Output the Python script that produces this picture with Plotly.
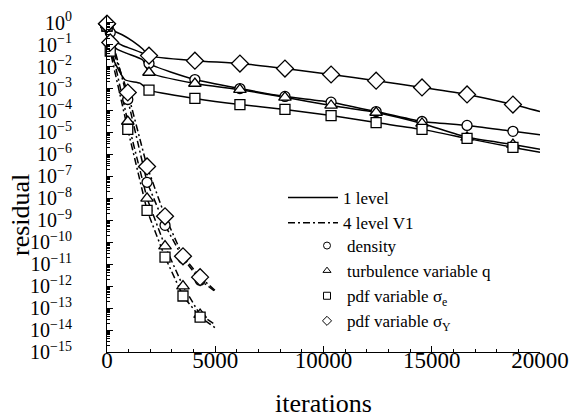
import plotly.graph_objects as go

# ---------------- data (iterations, log10 residual) ----------------
# 1-level (solid) runs
s_den_it = [0, 150, 370, 740, 1650, 1940, 4060, 6140, 8220, 10350, 12430, 14550, 16630, 18750, 20000]
s_den_lg = [-0.1, -0.45, -0.86, -1.05, -1.4, -1.86, -2.59, -3.0, -3.36, -3.62, -4.05, -4.5, -4.68, -4.95, -5.1]
s_q_it = [0, 150, 460, 920, 1650, 1940, 4060, 6140, 8220, 10350, 12430, 14550, 16630, 18750, 20000]
s_q_lg = [-0.1, -0.9, -1.2, -1.4, -1.7, -2.27, -2.77, -3.05, -3.4, -3.77, -4.09, -4.59, -5.22, -5.55, -5.77]
s_se_it = [0, 150, 830, 1520, 1940, 4060, 6140, 8220, 10350, 12430, 14550, 16630, 18750, 20000]
s_se_lg = [-0.15, -1.35, -2.6, -2.75, -3.07, -3.45, -3.73, -3.95, -4.23, -4.55, -4.86, -5.27, -5.68, -5.9]
s_sy_it = [0, 280, 700, 1200, 1650, 1940, 4060, 6140, 8220, 10350, 12430, 14550, 16630, 18750, 20000]
s_sy_lg = [-0.05, -0.35, -0.55, -0.85, -1.2, -1.5, -1.73, -1.86, -2.09, -2.36, -2.64, -2.95, -3.27, -3.73, -4.05]
# iterations at which the 1-level runs carry a marker
s_mark_it = [0, 1940, 4060, 6140, 8220, 10350, 12430, 14550, 16630, 18750]

# 4-level V1 (dash-dot) runs
d_it = [0, 150, 960, 1850, 2680, 3510, 4300, 5000]
d_den_lg = [-0.1, -0.45, -3.5, -7.27, -9.23, -10.73, -11.73, -12.25]
d_q_lg = [-0.1, -0.9, -4.5, -8.0, -10.18, -12.0, -13.3, -13.75]
d_se_lg = [-0.15, -1.3, -4.86, -8.55, -10.68, -12.45, -13.41, -13.9]
d_sy_lg = [-0.05, -0.9, -3.18, -6.55, -8.82, -10.64, -11.59, -12.2]
d_mark_it = [0, 150, 960, 1850, 2680, 3510, 4300]

y_decades = list(range(0, -16, -1))
x_ticks = [0, 5000, 10000, 15000, 20000]
x_ticktext = ["0", "5000", "10000", "15000", "20000"]

FONT = "Liberation Serif"

fig = go.Figure()

series = [
    ("density", "circle", 10),
    ("turbulence variable q", "triangle-up", 11),
    ("pdf variable σ<sub>e</sub>", "square", 10),
    ("pdf variable σ<sub>Y</sub>", "diamond", 13),
]
solid = [(s_den_it, s_den_lg), (s_q_it, s_q_lg), (s_se_it, s_se_lg), (s_sy_it, s_sy_lg)]
dashed = [d_den_lg, d_q_lg, d_se_lg, d_sy_lg]
DASH = "7px,3px,2px,3px"

for (name, sym, size), (it, lg), dlg in zip(series, solid, dashed):
    yv = [10 ** v for v in lg]
    fig.add_trace(go.Scatter(x=it, y=yv, mode="lines", showlegend=False,
                             line=dict(color="black", width=1.5, shape="spline", smoothing=0.5)))
    dyv = [10 ** v for v in dlg]
    fig.add_trace(go.Scatter(x=d_it, y=dyv, mode="lines", showlegend=False,
                             line=dict(color="black", width=1.5, dash=DASH)))
for (name, sym, size), (it, lg), dlg in zip(series, solid, dashed):
    mx = [x for x in it if x in s_mark_it]
    my = [10 ** lg[it.index(x)] for x in mx]
    dmx = [x for x in d_it if x in d_mark_it]
    dmy = [10 ** dlg[d_it.index(x)] for x in dmx]
    fig.add_trace(go.Scatter(x=mx + dmx, y=my + dmy, mode="markers", showlegend=False,
                             cliponaxis=False,
                             marker=dict(symbol=sym, size=size, color="white",
                                         line=dict(color="black", width=1.3))))

# legend entries
fig.add_trace(go.Scatter(x=[None], y=[None], mode="lines", name="1 level",
                         line=dict(color="black", width=1.5), legend="legend"))
fig.add_trace(go.Scatter(x=[None], y=[None], mode="lines", name="4 level V1",
                         line=dict(color="black", width=1.5, dash=DASH), legend="legend"))
for name, sym, size in series:
    fig.add_trace(go.Scatter(x=[None], y=[None], mode="markers", name=name, legend="legend2",
                             marker=dict(symbol=sym, size=7, color="white",
                                         line=dict(color="black", width=1))))

minor_y = [k * 10.0 ** p for p in range(-15, 0) for k in range(2, 10)]

L, R, T, B = 107, 30, 15, 68
W, H = 570, 420
pw, ph = W - L - R, H - T - B


def px2paper(x, y):
    return (x - L) / pw, (H - B - y) / ph


lx, ly = px2paper(283, 180)
l2x, l2y = px2paper(307, 228)
ax_, ay_ = px2paper(20, 215)

fig.update_layout(
    width=W, height=H,
    margin=dict(l=L, r=R, t=T, b=B, autoexpand=False),
    paper_bgcolor="white", plot_bgcolor="white",
    font=dict(family=FONT, color="black", size=22),
    xaxis=dict(range=[0, 20000], tickvals=x_ticks, ticktext=x_ticktext, ticks="inside", ticklen=6,
               tickwidth=1, tickcolor="black", showline=True, linecolor="black",
               linewidth=1.2, showgrid=False, zeroline=False, automargin=False,
               ticklabelstandoff=-13,
               tickfont=dict(size=23, family=FONT),
               minor=dict(dtick=1000, ticks="inside", ticklen=3, tickcolor="black", showgrid=False),
               title=dict(text="iterations", font=dict(size=26, family=FONT), standoff=22)),
    yaxis=dict(type="log", range=[-15, 0.35],
               tickvals=[10.0 ** p for p in y_decades],
               ticktext=["10<sup>%s</sup>" % (str(p) if p == 0 else "\u2212" + str(-p)) for p in y_decades],
               ticks="inside", ticklen=6, tickwidth=1, tickcolor="black",
               showline=True, linecolor="black", linewidth=1.2, showgrid=False,
               zeroline=False, ticklabelstandoff=30, automargin=False,
               tickfont=dict(size=20, family=FONT),
               minor=dict(tickvals=minor_y, ticks="inside", ticklen=3, tickcolor="black", showgrid=False)),
    legend=dict(x=lx, y=ly, xanchor="left", yanchor="top", bgcolor="rgba(0,0,0,0)",
                font=dict(size=17, family=FONT), tracegroupgap=0, itemwidth=50),
    legend2=dict(x=l2x, y=l2y, xanchor="left", yanchor="top", bgcolor="rgba(0,0,0,0)",
                 font=dict(size=17, family=FONT), tracegroupgap=0, itemwidth=30),
    annotations=[dict(text="residual", textangle=-90, xref="paper", yref="paper",
                      x=ax_, y=ay_, xanchor="center", yanchor="middle", showarrow=False,
                      font=dict(size=26, family=FONT))],
)

fig.write_html("out.html")
